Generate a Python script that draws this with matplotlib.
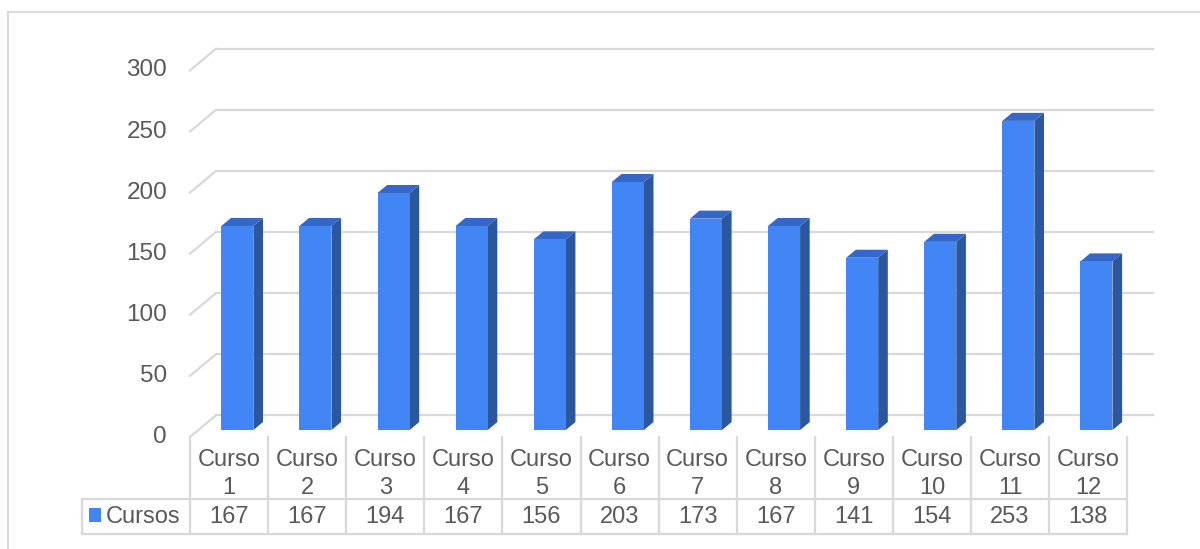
import matplotlib.pyplot as plt
from matplotlib.patches import Polygon, Rectangle
from matplotlib.lines import Line2D

plt.rcParams['font.family'] = ['Liberation Sans', 'DejaVu Sans']

categories = ['Curso\n1', 'Curso\n2', 'Curso\n3', 'Curso\n4', 'Curso\n5', 'Curso\n6',
              'Curso\n7', 'Curso\n8', 'Curso\n9', 'Curso\n10', 'Curso\n11', 'Curso\n12']
cursos = [167, 167, 194, 167, 156, 203, 173, 167, 141, 154, 253, 138]
series_name = 'Cursos'
yticks = [0, 50, 100, 150, 200, 250, 300]

FRONT = '#4285F4'
SIDE = '#2B579E'
TOP = '#3467C8'
GRID = '#D9D9D9'
TEXT = '#595959'

# pixel geometry of the plot
CELL = 78.1          # px per category
UNIT = 1.222         # px per value unit
X0, Y0 = 190, 437    # left edge / zero line of the front plane
DX = 26 / CELL       # depth offset in data units
DY = 21.7 / UNIT

W, H = 1200, 549
fig = plt.figure(figsize=(W / 100, H / 100), dpi=100)
ax = fig.add_axes([0, 0, 1, 1])
ax.set_xlim(-0.5 - X0 / CELL, -0.5 + (W - X0) / CELL)
ax.set_ylim((Y0 - H) / UNIT, Y0 / UNIT)
ax.axis('off')


def px_x(p):
    return (p - X0) / CELL - 0.5


def px_y(p):
    return (Y0 - p) / UNIT


n = len(cursos)

# back wall gridlines plus the slanted side-wall part
for t in yticks:
    ax.plot([-0.5 + DX, n - 0.5 + DX], [t + DY, t + DY], color=GRID, lw=1.6, zorder=1)
    ax.plot([-0.5, -0.5 + DX], [t, t + DY], color=GRID, lw=1.6, zorder=1)
    ax.text(px_x(167), t, str(t), ha='right', va='center', fontsize=17.5, color=TEXT)

# 3D columns
d0, d1 = 0.32, 0.69
half = 0.205
for i, v in enumerate(cursos):
    xl = i - half + d0 * DX
    xr = i + half + d0 * DX
    yb = d0 * DY
    yt = v + d0 * DY
    ddx = (d1 - d0) * DX
    ddy = (d1 - d0) * DY
    ax.add_patch(Polygon([(xr, yb), (xr + ddx, yb + ddy), (xr + ddx, yt + ddy), (xr, yt)],
                         closed=True, fc=SIDE, ec='none', zorder=3))
    ax.add_patch(Polygon([(xl, yt), (xr, yt), (xr + ddx, yt + ddy), (xl + ddx, yt + ddy)],
                         closed=True, fc=TOP, ec='none', zorder=3))
    ax.add_patch(Rectangle((xl, yb), xr - xl, yt - yb, fc=FRONT, ec='none', zorder=4))

# data table under the axis
row_top, row_mid, row_bot = px_y(437), px_y(498.5), px_y(534)
for k in range(n + 1):
    ax.plot([k - 0.5, k - 0.5], [row_top, row_bot], color=GRID, lw=1.6, clip_on=False)
left = px_x(82)
ax.plot([left, left], [row_mid, row_bot], color=GRID, lw=1.6)
for yy in (row_mid, row_bot):
    ax.plot([left, n - 0.5], [yy, yy], color=GRID, lw=1.6)

for i, (cat, v) in enumerate(zip(categories, cursos)):
    ax.text(i, px_y(474), cat, ha='center', va='center', fontsize=17, color=TEXT,
            linespacing=1.3)
    ax.text(i, px_y(517), str(v), ha='center', va='center', fontsize=17, color=TEXT)

ax.add_patch(Rectangle((px_x(89), px_y(522)), px_x(101) - px_x(89), px_y(508) - px_y(522),
                       fc=FRONT, ec='none'))
ax.text(px_x(106), px_y(517), series_name, ha='left', va='center', fontsize=17, color=TEXT)

# chart area border
fig.add_artist(Line2D([8 / W, 8 / W], [0, 1 - 12 / H], color=GRID, lw=1.4))
fig.add_artist(Line2D([8 / W, 1], [1 - 12 / H, 1 - 12 / H], color=GRID, lw=1.4))

fig.savefig('out.png', dpi=100)
